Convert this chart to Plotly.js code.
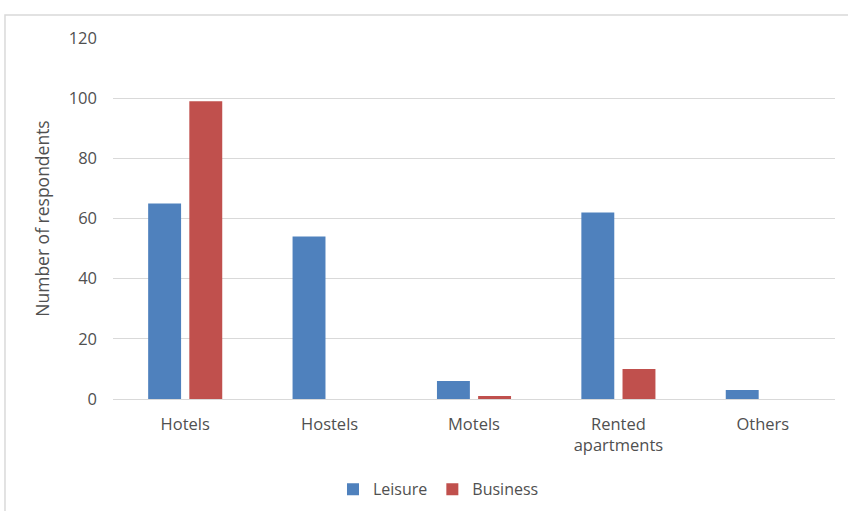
<!DOCTYPE html>
<html>
<head>
<meta charset="utf-8">
<script src="https://cdn.plot.ly/plotly-3.0.1.min.js"></script>
<style>html,body{margin:0;padding:0;background:#fff;}#chart{width:848px;height:511px;}</style>
</head>
<body>
<div id="chart"></div>
<script>
const categories = ["Hotels", "Hostels", "Motels", "Rented<br>apartments", "Others"];
const leisure = [65, 54, 6, 62, 3];
const business = [99, 0, 1, 10, 0];
const yTicks = [0, 20, 40, 60, 80, 100, 120];

const font = "Open Sans, Liberation Sans, sans-serif";
const textColor = "#505050";
const data = [
  {type: "bar", name: "Leisure", x: categories, y: leisure, marker: {color: "#4f81bd"}},
  {type: "bar", name: "Business", x: categories, y: business, marker: {color: "#c0504d"}}
];
const layout = {
  width: 848, height: 511,
  margin: {l: 113, r: 13, t: 38, b: 112, autoexpand: false},
  paper_bgcolor: "#fff", plot_bgcolor: "#fff",
  font: {family: font, size: 16, color: textColor},
  barmode: "group", bargap: 0.43, bargroupgap: 0.2,
  showlegend: true,
  legend: {orientation: "h", x: 0.3047, xanchor: "left", y: -0.25, yanchor: "middle", font: {size: 16, color: textColor}, itemwidth: 30},
  xaxis: {automargin: false, showgrid: false, showline: true, linecolor: "#d9d9d9", linewidth: 1, ticks: "", ticklabelstandoff: 10, tickfont: {size: 16.5}, fixedrange: true},
  yaxis: {automargin: false, range: [0, 120], tickvals: yTicks, showgrid: true, gridcolor: "#d9d9d9", zeroline: false, showline: false, ticks: "", ticklabelstandoff: 15, tickfont: {size: 16.5},
    title: {text: "Number of respondents", font: {size: 17.5, color: textColor}, standoff: 14}},
  shapes: [
    {type: "path", xref: "paper", yref: "paper", path: "M -0.1496,-0.4 L -0.1496,1.0637 L 1.05,1.0637", line: {color: "#d9d9d9", width: 1.5}}
  ]
};
Plotly.newPlot("chart", data, layout, {displayModeBar: false, staticPlot: true});
</script>
</body>
</html>
